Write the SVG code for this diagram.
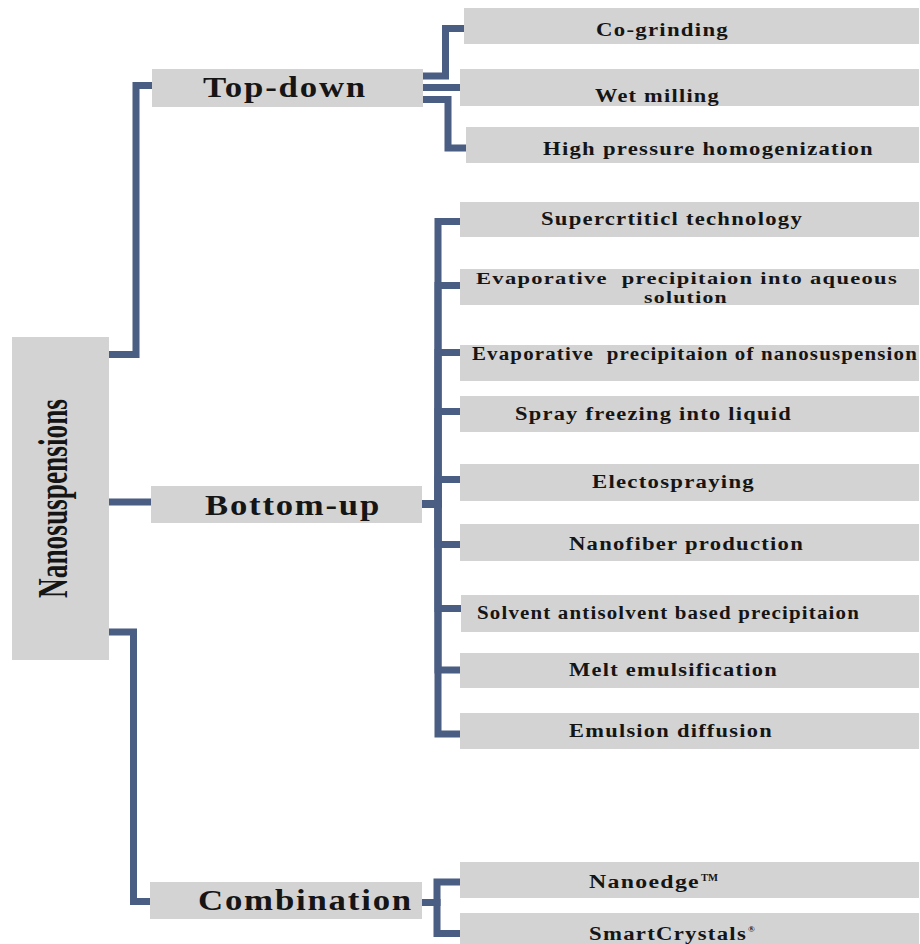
<svg xmlns="http://www.w3.org/2000/svg" width="920" height="944" viewBox="0 0 920 944">
<style>
.box{fill:#d3d3d3}
.conn{fill:none;stroke:#4a5d82;stroke-width:7;stroke-linejoin:miter;stroke-linecap:butt}
.t{font-family:"Liberation Serif","Times New Roman",serif;font-weight:bold;fill:#151515}
.l1{font-size:29px;letter-spacing:1.5px}
.lf{font-size:18px;letter-spacing:1px}
</style>
<rect width="920" height="944" fill="#ffffff"/>
<g id="connectors">
<path class="conn" d="M109,354.5 H136 V85.5 H152"/>
<path class="conn" d="M109,502 H151"/>
<path class="conn" d="M109,632 H133.5 V901.5 H150"/>
<path class="conn" d="M423,76 H445.5 V28.5 H464"/>
<path class="conn" d="M423,87.5 H460"/>
<path class="conn" d="M423,99.5 H448 V148 H466"/>
<path class="conn" d="M422,504 H438 V221.5 H460"/>
<path class="conn" d="M422,504 H438 V285.5 H460"/>
<path class="conn" d="M422,504 H438 V352.5 H460"/>
<path class="conn" d="M422,504 H438 V411.5 H460"/>
<path class="conn" d="M422,504 H438 V479.5 H460"/>
<path class="conn" d="M422,504 H438 V544.5 H460"/>
<path class="conn" d="M422,504 H438 V608.5 H461"/>
<path class="conn" d="M422,504 H438 V670 H460"/>
<path class="conn" d="M422,504 H438 V734 H460"/>
<path class="conn" d="M422,902.5 H437 V882 H460"/>
<path class="conn" d="M422,902.5 H437 V933.5 H460"/>
</g>
<g id="root">
<rect class="box" x="12" y="337" width="97" height="323"/>
<text class="t" font-size="42" text-anchor="middle" textLength="199" lengthAdjust="spacingAndGlyphs" transform="translate(67,498.5) rotate(-90)">Nanosuspensions</text>
</g>
<g id="top-down">
<rect class="box" x="152" y="69" width="271" height="38"/>
<text class="t l1" x="203" y="97" textLength="164" lengthAdjust="spacingAndGlyphs">Top-down</text>
</g>
<g id="bottom-up">
<rect class="box" x="151" y="486" width="271" height="37"/>
<text class="t l1" x="205" y="515" textLength="176" lengthAdjust="spacingAndGlyphs">Bottom-up</text>
</g>
<g id="combination">
<rect class="box" x="150" y="882" width="272" height="37"/>
<text class="t l1" x="198" y="910" textLength="215" lengthAdjust="spacingAndGlyphs">Combination</text>
</g>
<g id="co-grinding">
<rect class="box" x="464" y="8" width="455" height="36"/>
<text class="t lf" x="596" y="36" textLength="133" lengthAdjust="spacingAndGlyphs">Co-grinding</text>
</g>
<g id="wet-milling">
<rect class="box" x="460" y="69" width="459" height="37"/>
<text class="t lf" x="595" y="102" textLength="125" lengthAdjust="spacingAndGlyphs">Wet milling</text>
</g>
<g id="hph">
<rect class="box" x="466" y="127" width="453" height="36"/>
<text class="t lf" x="543" y="155" textLength="331" lengthAdjust="spacingAndGlyphs">High pressure homogenization</text>
</g>
<g id="supercritical">
<rect class="box" x="460" y="202" width="459" height="35"/>
<text class="t lf" x="541" y="225" textLength="262" lengthAdjust="spacingAndGlyphs">Supercrtiticl technology</text>
</g>
<g id="evap-aqueous">
<rect class="box" x="460" y="269" width="459" height="36"/>
<text class="t" font-size="17" letter-spacing="1" x="476" y="284" textLength="422" lengthAdjust="spacingAndGlyphs" xml:space="preserve">Evaporative  precipitaion into aqueous</text>
<text class="t" font-size="17" letter-spacing="1" x="644" y="303" textLength="84" lengthAdjust="spacingAndGlyphs">solution</text>
</g>
<g id="evap-nano">
<rect class="box" x="460" y="345" width="459" height="36"/>
<text class="t lf" x="472" y="360" textLength="446" lengthAdjust="spacingAndGlyphs" xml:space="preserve">Evaporative  precipitaion of nanosuspension</text>
</g>
<g id="spray-freezing">
<rect class="box" x="460" y="396" width="459" height="36"/>
<text class="t lf" x="515" y="420" textLength="277" lengthAdjust="spacingAndGlyphs">Spray freezing into liquid</text>
</g>
<g id="electospraying">
<rect class="box" x="460" y="464" width="459" height="37"/>
<text class="t lf" x="592" y="488" textLength="163" lengthAdjust="spacingAndGlyphs">Electospraying</text>
</g>
<g id="nanofiber">
<rect class="box" x="460" y="524" width="459" height="37"/>
<text class="t lf" x="569" y="550" textLength="235" lengthAdjust="spacingAndGlyphs">Nanofiber production</text>
</g>
<g id="solvent">
<rect class="box" x="461" y="595" width="458" height="37"/>
<text class="t lf" x="477" y="619" textLength="383" lengthAdjust="spacingAndGlyphs">Solvent antisolvent based precipitaion</text>
</g>
<g id="melt">
<rect class="box" x="460" y="653" width="459" height="35"/>
<text class="t lf" x="569" y="676" textLength="209" lengthAdjust="spacingAndGlyphs">Melt emulsification</text>
</g>
<g id="emulsion">
<rect class="box" x="460" y="713" width="459" height="36"/>
<text class="t lf" x="569" y="737" textLength="204" lengthAdjust="spacingAndGlyphs">Emulsion diffusion</text>
</g>
<g id="nanoedge">
<rect class="box" x="460" y="862" width="459" height="36"/>
<text class="t lf" x="589" y="888" textLength="111" lengthAdjust="spacingAndGlyphs">Nanoedge</text>
<text class="t" x="701" y="881" font-size="11" textLength="17" lengthAdjust="spacingAndGlyphs">TM</text>
</g>
<g id="smartcrystals">
<rect class="box" x="460" y="913" width="459" height="31"/>
<text class="t lf" x="589" y="940" textLength="158" lengthAdjust="spacingAndGlyphs">SmartCrystals</text>
<text class="t" x="748" y="932" font-size="9">®</text>
</g>
</svg>
